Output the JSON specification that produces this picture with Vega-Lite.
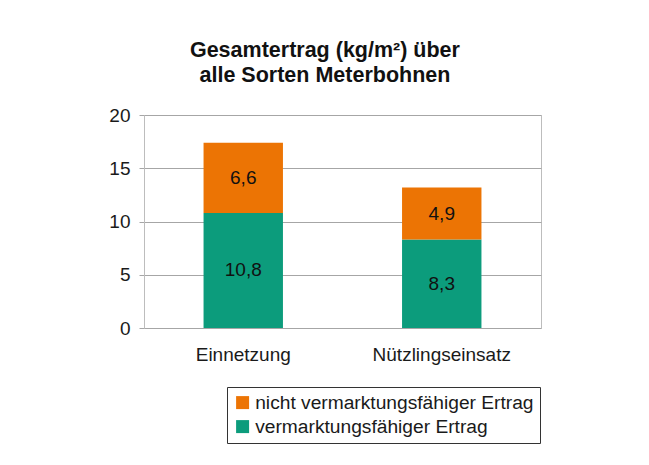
{
  "$schema": "https://vega.github.io/schema/vega-lite/v6.json",
  "width": 397,
  "height": 213,
  "autosize": {"type": "none"},
  "padding": {"left": 144, "top": 115, "right": 108, "bottom": 137},
  "background": "white",
  "title": {
    "text": ["Gesamtertrag (kg/m²) über", "alle Sorten Meterbohnen"],
    "font": "Liberation Sans",
    "fontSize": 21.5,
    "fontWeight": "bold",
    "lineHeight": 25,
    "color": "#111111",
    "anchor": "middle",
    "frame": "bounds",
    "offset": 20
  },
  "data": {
    "values": [
      {"variante": "Einnetzung", "typ": "vermarktungsfähiger Ertrag", "wert": 10.8},
      {"variante": "Einnetzung", "typ": "nicht vermarktungsfähiger Ertrag", "wert": 6.6},
      {"variante": "Nützlingseinsatz", "typ": "vermarktungsfähiger Ertrag", "wert": 8.3},
      {"variante": "Nützlingseinsatz", "typ": "nicht vermarktungsfähiger Ertrag", "wert": 4.9}
    ]
  },
  "transform": [
    {"stack": "wert", "groupby": ["variante"], "sort": [{"field": "typ", "order": "descending"}], "as": ["y0", "y1"]},
    {"calculate": "(datum.y0 + datum.y1) / 2", "as": "ymid"}
  ],
  "encoding": {
    "x": {
      "field": "variante",
      "type": "nominal",
      "sort": ["Einnetzung", "Nützlingseinsatz"],
      "scale": {"paddingInner": 0.6, "paddingOuter": 0.3},
      "axis": {
        "title": null,
        "labelAngle": 0,
        "domain": false,
        "ticks": false,
        "labelFont": "Liberation Sans",
        "labelFontSize": 19,
        "labelColor": "#1a1a1a",
        "labelPadding": 17
      }
    }
  },
  "layer": [
    {
      "mark": {"type": "bar"},
      "encoding": {
        "y": {
          "field": "y0",
          "type": "quantitative",
          "scale": {"domain": [0, 20]},
          "axis": {
            "title": null,
            "values": [0, 5, 10, 15, 20],
            "grid": true,
            "gridColor": "#a6a6a6",
            "gridWidth": 1,
            "domain": true,
            "domainColor": "#bdbdbd",
            "tickColor": "#a6a6a6",
            "tickSize": 5,
            "labelFont": "Liberation Sans",
            "labelFontSize": 19,
            "labelColor": "#1a1a1a",
            "labelPadding": 9
          }
        },
        "y2": {"field": "y1"},
        "color": {
          "field": "typ",
          "type": "nominal",
          "scale": {
            "domain": ["nicht vermarktungsfähiger Ertrag", "vermarktungsfähiger Ertrag"],
            "range": ["#ec7404", "#0c9c7c"]
          },
          "legend": {
            "title": null,
            "orient": "none",
            "legendX": 83,
            "legendY": 272,
            "strokeColor": "#333333",
            "padding": 6,
            "symbolType": "square",
            "symbolSize": 169,
            "symbolStrokeWidth": 0,
            "symbolOpacity": 1,
            "labelFont": "Liberation Sans",
            "labelFontSize": 19.2,
            "labelColor": "#1a1a1a",
            "labelOffset": 3,
            "rowPadding": 4,
            "labelLimit": 400
          }
        }
      }
    },
    {
      "mark": {"type": "text", "font": "Liberation Sans", "fontSize": 19, "color": "#111111", "baseline": "middle"},
      "encoding": {
        "y": {"field": "ymid", "type": "quantitative"},
        "text": {"field": "wert", "type": "quantitative", "format": ".1f"}
      }
    }
  ],
  "config": {
    "locale": {
      "number": {"decimal": ",", "thousands": ".", "grouping": [3], "currency": ["", " €"]}
    },
    "view": {"stroke": "#bdbdbd", "strokeWidth": 1}
  }
}
